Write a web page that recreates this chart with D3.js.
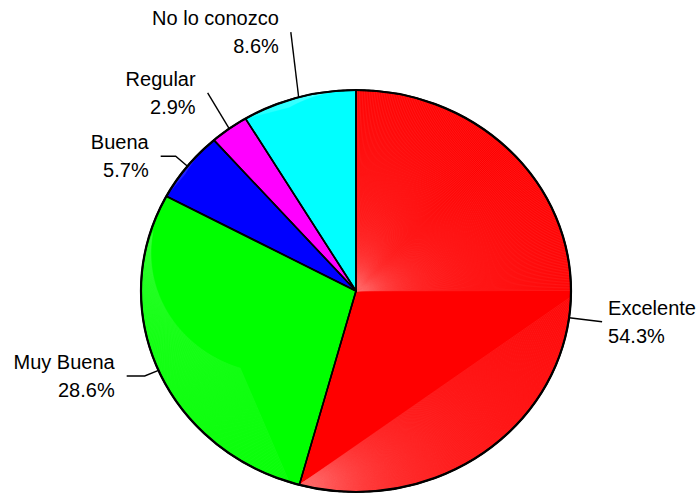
<!DOCTYPE html>
<html>
<head>
<meta charset="utf-8">
<script src="https://cdn.jsdelivr.net/npm/d3@7/dist/d3.min.js"></script>
<style>
  html, body { margin: 0; padding: 0; background: #fff; }
  svg { display: block; }
</style>
</head>
<body>
<svg id="chart" width="700" height="494"></svg>
<script>
// ---- data ----
const categories = ["Excelente", "Muy Buena", "Buena", "Regular", "No lo conozco"];
const values = [54.3, 28.6, 5.7, 2.9, 8.6];
const percentLabels = ["54.3%", "28.6%", "5.7%", "2.9%", "8.6%"];
const colors = ["#ff0000", "#00ff00", "#0000ff", "#ff00ff", "#00ffff"];
const seamTints = ["#ff7070", "#70ff70", "#6060ff", "#ff70ff", "#90ffff"];

// ---- layout (not data) ----
const cx = 356, cy = 291, rx = 215, ry = 201;
// leader elbow factors (relative to radius) and horizontal tail (px)
const leaderLayout = [
  { fx: 1.155, fy: 1.15, h: 0 },
  { fx: 1.07, fy: 1.07, h: -18 },
  { fx: 1.07, fy: 1.08, h: -15 },
  { fx: 1.17, fy: 1.22, h: 0 },
  { fx: 1.137, fy: 1.336, h: 0 }
];

const svg = d3.select("#chart");
const defs = svg.append("defs");

const pie = d3.pie().sort(null).value(d => d).startAngle(0).endAngle(2 * Math.PI);
const arcs = pie(values);

const pt = (a, f = 1, g = f) => [cx + rx * Math.sin(a) * f, cy - ry * Math.cos(a) * g];

function slicePath(d) {
  const n = Math.max(2, Math.ceil((d.endAngle - d.startAngle) / 0.01));
  const angles = d3.range(n + 1).map(i => d.startAngle + (d.endAngle - d.startAngle) * i / n);
  const pts = [[cx, cy]].concat(angles.map(a => pt(a)));
  return d3.line()(pts) + "Z";
}

const g = svg.append("g");

g.selectAll("path.slice")
  .data(arcs)
  .join("path")
  .attr("class", "slice")
  .attr("d", slicePath)
  .attr("fill", (d, i) => colors[i]);

// faint rasterisation seams (decorative light streaks, as in the reference)
function fan(sg, v, a0, a1, step, startFrac, op) {
  d3.range(a0, a1, step).forEach(a => {
    const e = pt(a);
    const s = [v[0] + (e[0] - v[0]) * startFrac, v[1] + (e[1] - v[1]) * startFrac];
    sg.append("line").attr("x1", s[0]).attr("y1", s[1])
      .attr("x2", e[0]).attr("y2", e[1]).attr("stroke-opacity", op);
  });
}
arcs.forEach((d, i) => {
  defs.append("clipPath").attr("id", "clip" + i)
    .append("path").attr("d", slicePath(d));
  const sg = g.append("g").attr("clip-path", `url(#clip${i})`)
    .attr("stroke", seamTints[i]).attr("stroke-width", 0.5).attr("fill", "none");
  const step = 0.008;
  const v = pt(d.endAngle);
  if (i === 0) {
    fan(sg, [cx, cy], d.startAngle, Math.PI / 2, step, 0, 0.4);
    fan(sg, v, Math.PI / 2 + 0.03, d.endAngle, step, 0, 0.4);
  } else if (i === 1) {
    fan(sg, v, d.startAngle + 0.05, d.endAngle - 0.3, step, 0.6, 0.3);
  } else {
    fan(sg, v, d.startAngle, d.endAngle, step, 0.6, 0.25);
  }
});

g.selectAll("path.border")
  .data(arcs)
  .join("path")
  .attr("class", "border")
  .attr("d", slicePath)
  .attr("fill", "none")
  .attr("stroke", "#000")
  .attr("stroke-width", 1.6)
  .attr("stroke-linejoin", "round");

// outer outline
svg.append("ellipse")
  .attr("cx", cx).attr("cy", cy).attr("rx", rx).attr("ry", ry)
  .attr("fill", "none").attr("stroke", "#000").attr("stroke-width", 2.2);

// labels
const lab = svg.append("g")
  .attr("font-family", "'Liberation Sans', Arial, Helvetica, sans-serif")
  .attr("font-size", 20)
  .attr("fill", "#000");

arcs.forEach((d, i) => {
  const mid = (d.startAngle + d.endAngle) / 2;
  const L = leaderLayout[i];
  const p0 = pt(mid, 1.0);
  const p1 = pt(mid, L.fx, L.fy);
  const p2 = [p1[0] + L.h, p1[1]];
  svg.append("path")
    .attr("d", d3.line()([p0, p1, p2]))
    .attr("fill", "none").attr("stroke", "#000").attr("stroke-width", 1.4);
  const right = Math.sin(mid) >= 0;
  const tx = right ? p2[0] + 6 : p2[0] - 12;
  const t = lab.append("text")
    .attr("text-anchor", right ? "start" : "end");
  t.append("tspan").attr("x", tx).attr("y", p2[1] - 7).text(categories[i]);
  t.append("tspan").attr("x", tx).attr("y", p2[1] + 21).text(percentLabels[i]);
});
</script>
</body>
</html>
